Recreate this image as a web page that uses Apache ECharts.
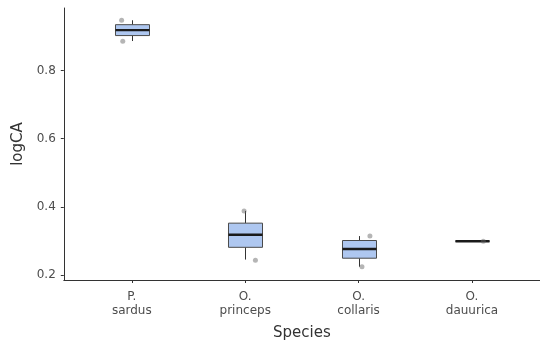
<!DOCTYPE html>
<html>
<head>
<meta charset="utf-8">
<script src="https://cdn.jsdelivr.net/npm/echarts@6/dist/echarts.min.js"></script>
<style>
  html, body { margin: 0; padding: 0; background: #fff; }
  #chart { width: 540px; height: 349px; }
</style>
</head>
<body>
<div id="chart"></div>
<script>
// Species on the x axis (positions 1..4)
const species = ['P.\nsardus', 'O.\nprinceps', 'O.\ncollaris', 'O.\ndauurica'];

// Box summaries per species: [lower whisker, Q1, median, Q3, upper whisker]
const boxStats = [
  [0.887, 0.903, 0.919, 0.935, 0.948],
  [0.245, 0.281, 0.318, 0.352, 0.388],
  [0.224, 0.249, 0.276, 0.301, 0.314],
  [0.299, 0.299, 0.299, 0.299, 0.299]
];

// Individual observations drawn as jittered points: [x position, logCA]
const pointX = [0.91, 0.92, 1.99, 2.09, 3.10, 3.03, 4.10];
const pointY = [0.948, 0.886, 0.388, 0.243, 0.314, 0.224, 0.299];

const yTicks = [0.2, 0.4, 0.6, 0.8];
const xTicks = [1, 2, 3, 4];

const boxData = boxStats.map((s, i) => [i + 1].concat(s));
const pointData = pointX.map((x, i) => [x, pointY[i]]);

const axisColor = '#333333';
const labelColor = '#4d4d4d';
const fontFamily = '"DejaVu Sans", sans-serif';

function renderBox(params, api) {
  const x = api.value(0);
  const lo = api.coord([x, api.value(1)]);
  const q1 = api.coord([x, api.value(2)]);
  const med = api.coord([x, api.value(3)]);
  const q3 = api.coord([x, api.value(4)]);
  const hi = api.coord([x, api.value(5)]);
  const half = api.size([0.3, 0])[0] / 2;
  const cx = Math.round(lo[0]) + 0.5;
  const lineStyle = { stroke: axisColor, lineWidth: 1 };
  return {
    type: 'group',
    children: [
      { type: 'line', shape: { x1: cx, y1: hi[1], x2: cx, y2: q3[1] }, style: lineStyle },
      { type: 'line', shape: { x1: cx, y1: q1[1], x2: cx, y2: lo[1] }, style: lineStyle },
      {
        type: 'rect',
        shape: { x: cx - half, y: q3[1], width: half * 2, height: q1[1] - q3[1] },
        style: { fill: '#aec7f0', stroke: '#4a4a4a', lineWidth: 1 }
      },
      {
        type: 'line',
        shape: { x1: cx - half, y1: med[1], x2: cx + half, y2: med[1] },
        style: { stroke: '#1a1a1a', lineWidth: 2.4 }
      }
    ]
  };
}

const chart = echarts.init(document.getElementById('chart'), null, { renderer: 'canvas' });
chart.setOption({
  animation: false,
  backgroundColor: '#ffffff',
  grid: { left: 63.8, right: -3, top: 8, bottom: 69, containLabel: false },
  xAxis: {
    type: 'value',
    min: 0.4,
    max: 4.6,
    name: 'Species',
    nameLocation: 'middle',
    nameGap: 46,
    nameTextStyle: { fontSize: 15, color: '#333333', fontFamily },
    splitLine: { show: false },
    axisLine: { show: true, lineStyle: { color: axisColor, width: 1 } },
    axisTick: { show: true, length: 3, customValues: xTicks, lineStyle: { color: axisColor } },
    axisLabel: {
      customValues: xTicks,
      color: labelColor,
      fontSize: 12,
      lineHeight: 14,
      margin: 10,
      fontFamily,
      formatter: v => species[Math.round(v) - 1] || ''
    }
  },
  yAxis: {
    type: 'value',
    min: 0.185,
    max: 0.984,
    name: 'logCA',
    nameLocation: 'middle',
    nameGap: 38.5,
    nameRotate: 90,
    nameTextStyle: { fontSize: 15, color: '#333333', fontFamily },
    splitLine: { show: false },
    axisLine: { show: true, lineStyle: { color: axisColor, width: 1 } },
    axisTick: { show: true, length: 3, customValues: yTicks, lineStyle: { color: axisColor } },
    axisLabel: {
      customValues: yTicks,
      color: labelColor,
      fontSize: 12,
      margin: 8,
      fontFamily,
      formatter: v => v.toFixed(1)
    }
  },
  series: [
    {
      type: 'custom',
      renderItem: renderBox,
      data: boxData,
      encode: { x: 0, y: [1, 2, 3, 4, 5] },
      z: 2
    },
    {
      type: 'scatter',
      data: pointData,
      symbolSize: 5,
      itemStyle: { color: 'rgba(100,100,100,0.6)' },
      z: 3
    }
  ]
});
</script>
</body>
</html>
